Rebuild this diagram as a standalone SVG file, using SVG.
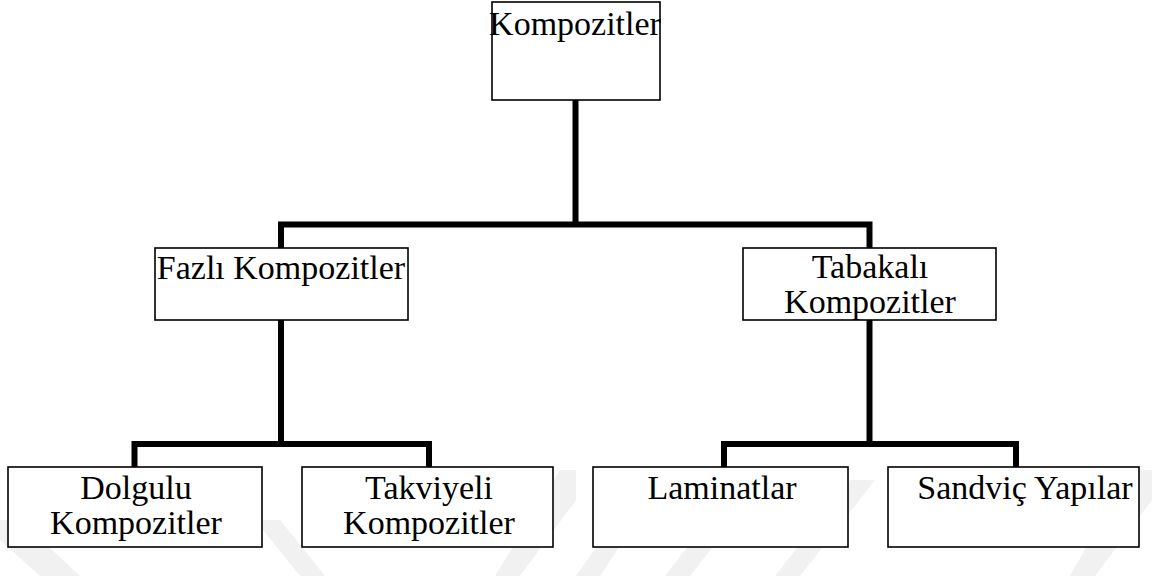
<svg xmlns="http://www.w3.org/2000/svg" width="1152" height="576" viewBox="0 0 1152 576">
<style>
.box{fill:#fff;stroke:#000;stroke-width:1.6}
.lbl{font-family:"Liberation Serif","Times New Roman",serif;font-size:34px;fill:#000;text-anchor:middle}
.conn{fill:none;stroke:#000;stroke-width:6;stroke-linejoin:miter;stroke-linecap:butt}
.wm{fill:#f1f1f1}
</style>
<rect width="1152" height="576" fill="#fff"/>
<g id="watermark">
<polygon class="wm" points="0,520 20,520 80,576 40,576 0,540"/>
<polygon class="wm" points="255,520 280,520 325,576 300,576"/>
<polygon class="wm" points="560,470 576,470 576,500 520,576 495,576"/>
<polygon class="wm" points="630,500 650,500 600,576 576,576"/>
<polygon class="wm" points="720,505 745,505 690,576 665,576"/>
<polygon class="wm" points="850,480 875,480 800,576 775,576"/>
<polygon class="wm" points="1130,470 1152,470 1152,500 1095,576 1070,576"/>
</g>
<g id="connectors">
<path class="conn" d="M575.5 100 V224.5"/>
<path class="conn" d="M281 248 V224.5 H869.5 V248"/>
<path class="conn" d="M281 320 V444"/>
<path class="conn" d="M134.5 467 V444 H429 V467"/>
<path class="conn" d="M869.5 320 V444"/>
<path class="conn" d="M724 467 V444 H1016 V467"/>
</g>
<g id="kompozitler">
<rect class="box" x="492" y="2" width="168" height="98"/>
<text class="lbl" x="575" y="35">Kompozitler</text>
</g>
<g id="fazli">
<rect class="box" x="155" y="248" width="253" height="72"/>
<text class="lbl" x="281" y="279">Fazlı Kompozitler</text>
</g>
<g id="tabakali">
<rect class="box" x="743" y="248" width="253" height="72"/>
<text class="lbl" x="870" y="278">Tabakalı</text>
<text class="lbl" x="870" y="313">Kompozitler</text>
</g>
<g id="dolgulu">
<rect class="box" x="8" y="467" width="254" height="80"/>
<text class="lbl" x="136" y="499">Dolgulu</text>
<text class="lbl" x="136" y="534">Kompozitler</text>
</g>
<g id="takviyeli">
<rect class="box" x="302" y="467" width="251" height="80"/>
<text class="lbl" x="429" y="499">Takviyeli</text>
<text class="lbl" x="429" y="534">Kompozitler</text>
</g>
<g id="laminatlar">
<rect class="box" x="593" y="467" width="255" height="80"/>
<text class="lbl" x="722" y="499">Laminatlar</text>
</g>
<g id="sandvic">
<rect class="box" x="888" y="467" width="251" height="80"/>
<text class="lbl" x="1025" y="499">Sandviç Yapılar</text>
</g>
</svg>
